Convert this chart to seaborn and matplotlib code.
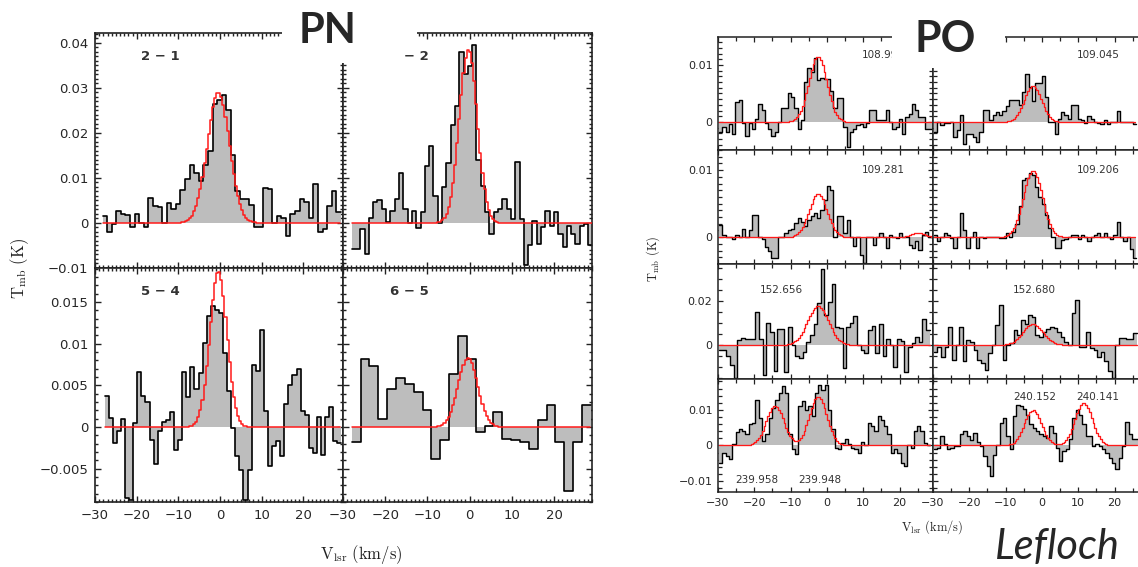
import numpy as np
import matplotlib
matplotlib.use("Agg")
import matplotlib.pyplot as plt
from matplotlib.patches import Rectangle
from matplotlib.ticker import MultipleLocator, FuncFormatter
import seaborn as sns

# ---------------------------------------------------------------------------
# Spectra: brightness temperature T_mb in mK per velocity channel.
# Each spectrum: first channel edge (km/s), channel width (km/s), values.
# Gaussian fits: (peak mK, centre km/s, FWHM km/s)
# ---------------------------------------------------------------------------

# PN J = 2-1
pn21_v0, pn21_dv = -28.2, 1.1
pn21_tmb = [1.6, -2.0, -0.3, 2.7, 2.0, 1.7, -0.8, 2.0, 0.0, -1.0,
            5.5, 3.7, 3.5, 0.0, 4.4, 3.0, 4.2, 7.3, 9.7, 12.8,
            11.0, 9.4, 12.8, 16.0, 26.5, 27.4, 28.5, 25.0, 15.0, 7.0,
            5.3, 5.3, 4.0, -1.0, -1.0, 7.7, 7.5, 0.0, 1.6, 1.0,
            -3.0, 2.0, 2.7, 5.3, 4.6, 1.0, 8.6, -2.0, -1.3, 3.8,
            7.0, 2.4]
pn21_fit = [(29.0, -0.4, 6.2)]

# PN J = 3-2
pn32_v0, pn32_dv = -27.95, 1.02
pn32_tmb = [-5.7, -5.7, -1.3, -6.9, 1.1, 4.6, 5.0, 3.0, 0.3, 2.7,
            5.3, 11.2, 3.0, 0.0, 2.7, -1.2, 2.4, 12.7, 17.2, 6.0,
            0.0, 7.9, 13.3, 21.7, 26.0, 38.0, 33.0, 34.8, 39.6, 14.0,
            8.3, 2.4, -2.4, 2.4, 3.0, 5.3, 3.0, 0.9, 13.6, 0.9,
            -9.4, -5.0, 0.5, -4.6, -1.0, 2.7, -0.6, 2.4, -2.4, -5.4,
            -0.6, -2.4, -4.6, -0.6, -0.2, -5.0]
pn32_fit = [(38.5, -0.3, 5.0)]

# PN J = 5-4
pn54_v0, pn54_dv = -27.7, 0.98
pn54_tmb = [3.7, 1.1, -1.9, -0.5, 1.0, -8.5, -8.7, 0.5, 6.6, 3.7,
            3.0, -1.5, -4.4, -0.5, 0.6, 0.9, 1.8, -2.8, -1.5, 6.6,
            3.6, 7.2, 4.6, 6.5, 10.1, 13.3, 14.5, 14.1, 13.7, 8.9,
            4.3, -0.1, -3.5, -5.1, -8.7, -5.1, 7.4, 6.7, 11.7, 1.9,
            -4.7, -2.3, -1.7, -3.5, 2.8, 5.1, 6.3, 7.0, 1.9, 1.5,
            -2.5, -3.1, 1.2, -3.3, 1.2, 2.4, -1.7, -1.9]
pn54_fit = [(18.7, -0.4, 4.8)]

# PN J = 6-5
pn65_v0, pn65_dv = -27.95, 2.1
pn65_tmb = [-1.8, 8.2, 7.3, 1.0, 4.6, 5.9, 5.2, 4.2, 2.0, -3.8,
            -1.6, 6.4, 10.9, 8.2, -0.6, 0.1, 1.8, -1.4, -1.6, -1.8,
            -2.6, 0.8, 2.6, -1.8, -7.7, -1.8, 2.6]
pn65_fit = [(8.3, -0.4, 5.5)]

# PO 108.998 GHz
po108998_v0, po108998_dv = -29.7, 0.9
po108998_tmb = [-1.8, -0.9, -1.8, -0.3, -2.1, 3.5, 3.8, -0.2, -2.4, -0.2,
                -1.2, 0.6, 3.1, 2.1, -0.2, -1.2, -2.4, -1.8, 0.0, 2.4,
                2.4, 5.1, 4.4, 2.4, -1.2, 0.3, 7.1, 9.4, 8.8, 11.2,
                7.4, 7.8, 7.5, 7.5, 5.5, 2.4, 4.2, 4.2, -0.8, -4.4,
                -1.8, -1.2, -0.6, -0.3, -0.8, -0.2, 2.1, 2.1, 0.4, 0.4,
                0.4, 2.1, 0.0, -1.2, -0.8, 0.6, -2.1, 0.9, 1.4, 3.2,
                2.1, 0.9, 0.9, -1.2, -1.2]
po108998_fit = [(11.4, -2.5, 5.9)]

# PO 109.045 GHz
po109045_v0, po109045_dv = -29.8, 0.9
po109045_tmb = [-1.8, 0.0, -0.6, -0.2, -0.2, 0.0, -2.6, -1.4, 1.2, -3.8,
                -2.1, -2.1, -2.6, -3.5, -1.8, 2.1, 2.1, 0.4, 1.2, 1.8,
                1.2, 1.9, 2.8, 3.9, 3.9, 3.8, 2.9, 5.3, 8.4, 6.2,
                3.7, 6.8, 6.8, 8.1, 4.4, 0.0, 0.0, -2.1, 0.6, 1.8,
                1.2, 0.6, 2.9, 2.9, 0.6, 0.4, -0.2, 1.0, 0.6, 0.0,
                -0.2, -0.4, 0.4, -0.4, 0.0, 0.0, 1.9, 0.0, 0.0, 0.0,
                0.0, -0.4]
po109045_fit = [(6.3, -2.5, 5.6)]

# PO 109.281 GHz
po109281_v0, po109281_dv = -29.7, 0.9
po109281_tmb = [1.8, 0.3, 0.0, 0.0, -0.3, 0.3, 0.0, 1.2, 0.0, 1.1,
                3.3, 3.3, 0.0, -0.3, -1.4, -2.1, -3.1, -3.1, 0.0, 0.0,
                0.6, 1.1, 1.2, 2.1, 2.8, 2.3, 1.6, 2.6, 3.2, 3.6,
                2.8, 4.0, 5.5, 7.6, 7.0, 0.0, 3.1, 3.1, 0.6, 2.6,
                0.0, -1.3, 0.0, -2.6, -3.9, 0.0, 0.0, -1.1, 0.0, 0.6,
                0.0, -1.6, 0.3, 0.0, -0.1, 0.6, 0.0, 0.0, -1.1, -1.6,
                -0.6, -1.9, 0.3, 0.8, 0.0]
po109281_fit = [(6.4, -2.45, 5.9), (0.7, 25.0, 4.0)]

# PO 109.206 GHz
po109206_v0, po109206_dv = -29.8, 0.9
po109206_tmb = [0.3, -0.6, 0.0, 0.6, 0.3, -0.1, -1.6, 0.0, 3.6, 1.1,
                -1.6, 0.0, 0.8, -1.6, 0.0, -0.1, 0.0, 0.0, 0.1, 0.0,
                -0.1, -0.1, 0.6, 0.0, 0.8, 2.0, 4.7, 8.5, 8.8, 9.5,
                9.3, 7.5, 6.0, 5.0, 3.3, 1.3, 0.0, -1.6, -1.6, -0.4,
                -0.3, 0.0, 0.3, 0.3, -0.3, 0.3, 0.0, -0.6, 0.0, 0.3,
                0.6, 0.0, 0.6, 0.0, -0.3, 0.3, 2.3, 0.0, -0.6, 0.0,
                -1.8, -3.1]
po109206_fit = [(9.9, -2.5, 6.2)]

# PO 152.656 GHz
po152656_v0, po152656_dv = -29.7, 1.0
po152656_tmb = [-2.3, -2.3, -5.0, -9.0, -15.0, 2.3, 3.0, 2.6, 2.6, 2.6,
                15.0, 2.6, -13.5, 9.8, 6.0, -12.0, 7.1, 7.1, -12.5, 8.3,
                0.0, -5.0, -6.0, -3.0, 1.5, 4.5, 9.5, 19.0, 34.6, 13.5,
                19.5, 27.8, 8.0, 7.5, -10.5, 8.3, 10.0, 13.0, 0.0, -2.3,
                -3.8, 6.8, 8.6, -3.8, 9.5, -5.0, 2.6, 0.0, -10.0, 2.6,
                2.0, -12.5, -0.8, 0.8, 3.5, 1.5, 11.6, 6.8]
po152656_fit = [(17.6, -2.45, 6.8)]

# PO 152.680 GHz
po152680_v0, po152680_dv = -29.8, 1.0
po152680_tmb = [-3.0, -0.8, -5.3, -0.8, 8.3, -6.8, 0.0, 8.3, -7.5, 2.3,
                1.5, -2.3, -6.8, -8.3, -11.6, -3.8, 0.0, 9.0, 18.0, -6.8,
                0.0, 0.8, 6.8, 4.5, 11.3, 9.5, 13.5, 12.8, 4.5, 3.8,
                6.0, 7.1, 8.3, 7.5, 6.0, 3.8, 1.5, 0.0, 14.3, 20.3,
                -0.8, -0.8, 6.0, -1.5, -2.3, -5.3, -3.0, -7.5, -12.0, -15.0,
                0.0, 3.0, 3.0, 2.6, 2.6, 5.3]
po152680_fit = [(9.5, -2.5, 6.5)]

# PO 239.958 / 239.948 GHz
po2399_v0, po2399_dv = -29.7, 0.909
po2399_tmb = [-4.9, -2.0, -3.0, -3.9, 0.3, 3.7, 4.5, 4.0, 3.1, 5.9,
              6.4, 12.9, 7.8, 1.2, 3.1, 7.8, 10.6, 12.9, 14.8, 16.6,
              14.8, 3.1, -1.1, -2.5, 11.0, 12.4, 10.1, 11.0, 8.2, 14.8,
              17.1, 15.7, 17.1, 10.1, 4.5, -0.6, -1.1, 0.7, 1.7, 0.3,
              -0.6, -1.1, -2.0, 0.9, 0.2, 6.4, 5.4, 4.0, 8.2, 7.3,
              5.4, 3.1, -2.0, -1.1, -2.0, -4.9, -5.8, 0.2, -0.6, 4.0,
              5.4, 4.0, 0.8, 0.0]
po2399_fit = [(11.2, -14.3, 5.7), (13.8, -2.45, 5.7)]

# PO 240.152 / 240.141 GHz
po2401_v0, po2401_dv = -29.8, 0.909
po2401_tmb = [-1.1, -0.6, 2.6, 0.3, -0.9, -0.6, -0.2, -0.2, 3.1, 4.0,
              2.6, 1.5, 3.5, 0.9, -0.2, -3.0, -5.8, -8.6, -2.8, 0.0,
              6.4, 7.8, 2.6, -1.1, 8.2, 11.5, 11.0, 10.3, 8.7, 5.9,
              5.0, 4.0, 3.1, 2.6, 2.1, 5.4, 3.5, -0.7, -4.4, -1.6,
              -1.1, 1.7, 7.8, 10.1, 8.7, 5.9, 2.6, 2.6, -0.2, 0.3,
              -0.2, -1.1, -2.2, -3.5, -4.9, -6.7, -3.5, -0.2, 6.5, 3.1,
              1.7, 1.7]
po2401_fit = [(9.9, -2.5, 5.6), (12.0, 11.5, 5.6)]

# Panel annotations
pn_transitions = ["2 \u2212 1", "3 \u2212 2", "5 \u2212 4", "6 \u2212 5"]

# ---------------------------------------------------------------------------
sns.set_style("ticks")
plt.rcParams.update({
    "font.family": ["DejaVu Sans"],
    "mathtext.fontset": "cm",
    "axes.linewidth": 1.1,
})

INK = "#222222"
GRAY = "#bdbdbd"
RED = "#ff1a1a"

W, H = 1138, 567
fig = plt.figure(figsize=(W / 100, H / 100), dpi=100)
fig.patch.set_facecolor("white")


def px_axes(x0, y0, x1, y1):
    return fig.add_axes([x0 / W, 1 - y1 / H, (x1 - x0) / W, (y1 - y0) / H])


def fmt(v, pos):
    s = f"{round(v, 6):g}"
    if s == "-0":
        s = "0"
    return s.replace("-", "\u2212")


def draw_spectrum(ax, v0, dv, tmb, fit, lw_data=1.1, lw_fit=1.0):
    t = np.asarray(tmb, dtype=float) * 1e-3
    edges = v0 + dv * np.arange(len(t) + 1)
    y = np.append(t, t[-1])
    ax.fill_between(edges, y, 0, step="post", color=GRAY, lw=0, zorder=1)
    sns.lineplot(x=edges, y=y, drawstyle="steps-post", color="black",
                 lw=lw_data, estimator=None, sort=False, ax=ax, zorder=2)
    grid = np.arange(edges[0], edges[-1] + 1e-9, 0.5)
    model = np.zeros_like(grid)
    for amp, cen, fwhm in fit:
        model += amp * np.exp(-4 * np.log(2) * ((grid - cen) / fwhm) ** 2)
    sns.lineplot(x=grid, y=model * 1e-3, drawstyle="steps-mid", color=RED,
                 lw=lw_fit, estimator=None, sort=False, ax=ax, zorder=3)
    ax.set_xlabel("")
    ax.set_ylabel("")


def style_axes(ax, xlim, ylim, xmaj, xmin, ymaj, ymin, show_x, show_y,
               fs, maj_len, min_len, lw):
    ax.set_xlim(*xlim)
    ax.set_ylim(*ylim)
    ax.xaxis.set_major_locator(MultipleLocator(xmaj))
    ax.xaxis.set_minor_locator(MultipleLocator(xmin))
    ax.yaxis.set_major_locator(MultipleLocator(ymaj))
    ax.yaxis.set_minor_locator(MultipleLocator(ymin))
    ax.xaxis.set_major_formatter(FuncFormatter(fmt))
    ax.yaxis.set_major_formatter(FuncFormatter(fmt))
    ax.tick_params(which="both", direction="in", top=True, right=True,
                   bottom=True, left=True, labelbottom=show_x,
                   labelleft=show_y, labelsize=fs, labelcolor="#262626",
                   color=INK, width=lw)
    ax.tick_params(which="major", length=maj_len, pad=5)
    ax.tick_params(which="minor", length=min_len)
    for s in ax.spines.values():
        s.set_linewidth(lw + 0.2)
        s.set_color(INK)


# ---------------------------- PN block -------------------------------------
pn_cols = [(95, 343), (343, 592)]
pn_rows = [(33, 268), (268, 502)]
pn_spec = [
    (pn21_v0, pn21_dv, pn21_tmb, pn21_fit),
    (pn32_v0, pn32_dv, pn32_tmb, pn32_fit),
    (pn54_v0, pn54_dv, pn54_tmb, pn54_fit),
    (pn65_v0, pn65_dv, pn65_tmb, pn65_fit),
]
pn_ylims = [(-0.01, 0.0422), (-0.009, 0.0191)]
pn_ymaj = [0.01, 0.005]
pn_xlims = [(-30, 29.5), (-30, 29)]

for i, (v0, dv, tmb, fit) in enumerate(pn_spec):
    r, c = divmod(i, 2)
    ax = px_axes(pn_cols[c][0], pn_rows[r][0], pn_cols[c][1], pn_rows[r][1])
    draw_spectrum(ax, v0, dv, tmb, fit, lw_data=1.2, lw_fit=1.1)
    style_axes(ax, pn_xlims[c], pn_ylims[r], 10, 1, pn_ymaj[r], 0.001,
               show_x=(r == 1), show_y=(c == 0), fs=9.5,
               maj_len=4.5, min_len=2.3, lw=1.0)
    ax.text(0.265, 0.9, pn_transitions[i], transform=ax.transAxes,
            ha="center", va="center", fontsize=9.5, color="#333333",
            fontweight="bold")

fig.text(20 / W, 1 - 268 / H, r"$\mathrm{T_{mb}\ (K)}$", rotation=90,
         ha="center", va="center", fontsize=12, color=INK)
fig.text(361 / W, 1 - 555 / H, r"$\mathrm{V_{lsr}\ (km/s)}$",
         ha="center", va="center", fontsize=12, color=INK)

# ---------------------------- PO block -------------------------------------
po_cols = [(718, 933), (933, 1148)]
po_rows = [(37, 150), (150, 264), (264, 379), (379, 492)]
po_ylims = [(-0.0049, 0.0149), (-0.004, 0.013), (-0.0155, 0.0368),
            (-0.0131, 0.0187)]
po_ymaj = [0.01, 0.01, 0.02, 0.01]
po_ymin = [0.001, 0.001, 0.005, 0.002]
po_spec = [
    [(po108998_v0, po108998_dv, po108998_tmb, po108998_fit),
     (po109045_v0, po109045_dv, po109045_tmb, po109045_fit)],
    [(po109281_v0, po109281_dv, po109281_tmb, po109281_fit),
     (po109206_v0, po109206_dv, po109206_tmb, po109206_fit)],
    [(po152656_v0, po152656_dv, po152656_tmb, po152656_fit),
     (po152680_v0, po152680_dv, po152680_tmb, po152680_fit)],
    [(po2399_v0, po2399_dv, po2399_tmb, po2399_fit),
     (po2401_v0, po2401_dv, po2401_tmb, po2401_fit)],
]
po_labels = [
    [[("108.998", 0.67, 0.84)], [("109.045", 0.67, 0.84)]],
    [[("109.281", 0.67, 0.825)], [("109.206", 0.67, 0.825)]],
    [[("152.656", 0.195, 0.774)], [("152.680", 0.372, 0.774)]],
    [[("239.958", 0.079, 0.106), ("239.948", 0.372, 0.106)],
     [("240.152", 0.372, 0.84), ("240.141", 0.665, 0.84)]],
]

for r in range(4):
    for c in range(2):
        v0, dv, tmb, fit = po_spec[r][c]
        ax = px_axes(po_cols[c][0], po_rows[r][0], po_cols[c][1], po_rows[r][1])
        draw_spectrum(ax, v0, dv, tmb, fit, lw_data=1.0, lw_fit=0.95)
        style_axes(ax, (-30, 29.2), po_ylims[r], 10, 5, po_ymaj[r], po_ymin[r],
                   show_x=(r == 3), show_y=(c == 0), fs=8,
                   maj_len=3.4, min_len=2.6, lw=0.9)
        ax.tick_params(which="major", pad=4)
        for text, fx, fy in po_labels[r][c]:
            ax.text(fx, fy, text, transform=ax.transAxes, ha="left",
                    va="center", fontsize=7.5, color="#333333")

fig.text(653 / W, 1 - 259 / H, r"$\mathrm{T_{mb}\ (K)}$", rotation=90,
         ha="center", va="center", fontsize=9, color=INK)
fig.text(932 / W, 1 - 527 / H, r"$\mathrm{V_{lsr}\ (km/s)}$",
         ha="center", va="center", fontsize=9, color=INK)

# ---------------------------- titles ---------------------------------------
# white backing boxes behind the block titles (x0, x1, y0, y1 in pixels)
title_boxes = [(282, 417, 0, 42), (282, 401, 42, 63), (892, 1005, 0, 68)]
for (x0, x1, y0, y1) in title_boxes:
    fig.add_artist(Rectangle((x0 / W, 1 - y1 / H), (x1 - x0) / W,
                             (y1 - y0) / H, transform=fig.transFigure,
                             facecolor="white", edgecolor="none", zorder=10))

fig.text(299 / W, 1 - 43 / H, "PN", fontsize=30, fontweight="bold",
         family=["Lato", "DejaVu Sans"], va="baseline", ha="left", zorder=11)
fig.text(914 / W, 1 - 52 / H, "PO", fontsize=31, fontweight="bold",
         family=["Lato", "DejaVu Sans"], va="baseline", ha="left", zorder=11)
fig.text(995 / W, 1 - 566 / H, "Lefloch", fontsize=30, style="italic",
         family=["Lato", "DejaVu Sans"], va="bottom", ha="left", zorder=11)

fig.savefig("out.png", dpi=100)
